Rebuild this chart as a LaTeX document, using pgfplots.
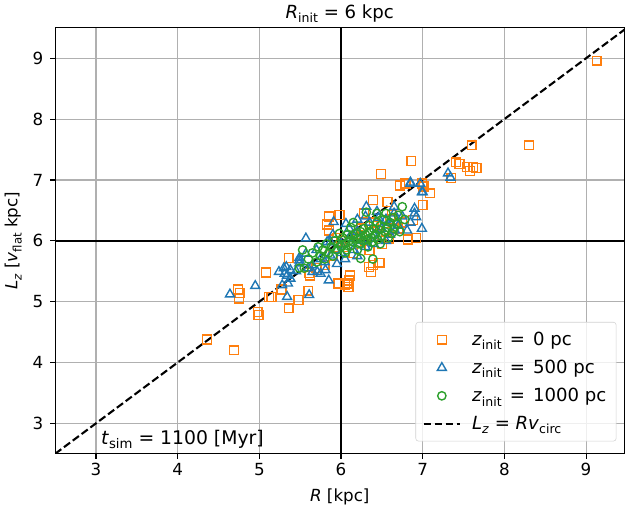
\documentclass[border=0pt]{standalone}
\usepackage{fontspec}
\setmainfont{DejaVu Sans}
\usepackage{pgfplots}
\pgfplotsset{compat=1.18}
\definecolor{corange}{HTML}{FF7F0E}
\definecolor{cblue}{HTML}{1F77B4}
\definecolor{cgreen}{HTML}{2CA02C}
\definecolor{cgrid}{HTML}{B0B0B0}
\newcommand{\fs}{\fontsize{12}{14}\selectfont}
\newcommand{\lsub}[2][8.4]{\raisebox{-0.25em}{\fontsize{#1}{#1}\selectfont #2}}
\newcommand{\legeq}{\hspace{0.45em}=\hspace{0.45em}}
\pgfplotsset{
  mklegend/.style={legend image code/.code={\draw[mark repeat=2,mark phase=2,##1] plot coordinates {(0pt,0pt) (13pt,0pt) (26pt,0pt)};}},
  lnlegend/.style={legend image code/.code={\draw[##1] (0pt,0pt) -- (26pt,0pt);}},
}
\begin{document}
\begin{tikzpicture}
\begin{axis}[
  scale only axis, width=409pt, height=306pt,
  xmin=2.5, xmax=9.47, ymin=2.5, ymax=9.5,
  xtick={3,4,5,6,7,8,9}, ytick={3,4,5,6,7,8,9},
  grid=major, grid style={color=cgrid, line width=0.8pt},
  axis line style={line width=0.8pt},
  tick align=outside, xtick pos=lower, ytick pos=left,
  major tick length=3.5pt, tick style={line width=0.8pt, black},
  font=\fs, tick label style={font=\fs},
  yticklabel style={xshift=-1.5pt},
  /pgf/number format/assume math mode=true,
  title={\textit{R}\lsub[9]{init} = 6 kpc},
  title style={yshift=-6pt, font=\fontsize{13}{15}\selectfont},
  xlabel={\textit{R} [kpc]}, ylabel={\textit{L}\lsub{\textit{z}} [\textit{v}\lsub{flat} kpc]},
  xlabel style={yshift=-2pt}, ylabel style={yshift=1pt},
  legend style={at={(rel axis cs:0.986,0.029)}, anchor=south east, draw=gray!35, rounded corners=2pt,
    fill=white, fill opacity=0.8, text opacity=1, font=\fontsize{13}{15}\selectfont, row sep=5pt, inner xsep=5pt, inner ysep=5pt,
    /tikz/every even column/.append style={column sep=10pt},
    /tikz/every odd column/.append style={column sep=6pt}},
  legend cell align=left,
]
\addplot[black, line width=1.5pt, forget plot] coordinates {(6,2.5) (6,9.5)};
\addplot[black, line width=1.5pt, forget plot] coordinates {(2.5,6) (9.5,6)};
% z_init = 0 pc
\addplot[only marks, mark=square, mark size=3.2pt, corange, mark options={line width=1pt}, mklegend] coordinates {
(9.13,8.96) (8.30,7.57) (7.60,7.57) (6.86,7.31) (7.41,7.29) (7.45,7.26) (7.54,7.21) (7.62,7.21)
(7.58,7.15) (7.66,7.20) (7.35,7.03) (6.49,7.10) (6.72,6.91) (6.79,6.94) (6.99,6.94) (7.01,6.89)
(7.09,6.78) (7.00,6.59) (6.88,6.34) (6.39,6.67) (6.57,6.64) (5.85,6.40) (5.98,6.42) (6.28,6.45)
(5.83,6.27) (6.82,6.02) (6.59,6.04) (5.36,5.72) (6.34,5.57) (6.47,5.64) (6.39,5.60) (6.37,5.49)
(6.11,5.43) (6.08,5.30) (6.09,5.24) (5.97,5.30) (6.10,5.35) (5.61,5.47) (5.85,6.17) (5.62,5.43)
(5.08,5.48) (4.74,5.20) (4.75,5.05) (4.76,5.14) (5.12,5.08) (5.15,5.08) (5.27,5.20) (5.60,5.18)
(5.48,5.03) (5.36,4.89) (4.98,4.83) (4.99,4.78) (4.36,4.38) (4.69,4.20) (6.05,5.27)
(6.20,6.10) (6.45,6.25) (6.60,6.35) (6.05,5.90) (5.90,5.75) (6.30,6.00) (6.55,6.15) (6.70,6.20)
(6.15,5.80) (5.80,5.60) (6.40,6.30) (6.62,6.42) (5.95,6.05) (6.25,6.20) (6.50,5.95) (6.75,6.30)
(6.92,6.05) (6.00,6.00) (6.35,5.85) (5.70,5.55)
};
\addlegendentry{\textit{z}\lsub[9]{init}\legeq 0 pc}
% z_init = 500 pc
\addplot[only marks, mark=triangle, mark size=3.7pt, cblue, mark options={line width=1pt}, mklegend] coordinates {
(4.64,5.12) (4.95,5.26) (5.24,5.49) (5.33,5.57) (5.31,5.46) (5.49,5.63) (5.38,5.38) (5.35,5.30)
(5.28,5.27) (5.34,5.08) (5.61,5.11) (5.85,5.35) (5.75,5.46) (5.65,5.49) (5.57,5.79) (5.49,5.72)
(5.57,6.04) (5.30,5.55) (5.34,5.43) (5.49,5.68) (5.71,5.49) (5.81,5.52) (5.87,5.76) (5.83,5.98)
(5.91,6.31) (6.06,6.28) (5.87,5.98) (6.31,6.56) (6.44,6.48) (6.65,6.56) (6.90,6.53) (6.92,6.39)
(6.81,6.17) (6.99,6.20) (6.85,6.94) (6.97,6.94) (6.99,6.80) (7.31,7.11) (7.34,7.04) (6.85,6.96)
(7.00,6.80) (6.90,6.45) (6.75,6.40) (6.60,6.30) (6.70,6.25) (6.50,6.20) (6.40,6.10) (6.55,6.35)
(6.35,6.30) (6.20,6.15) (6.10,6.05) (6.00,5.95) (5.95,5.85) (6.25,6.00) (6.45,6.05) (6.60,6.10)
(6.66,6.17) (6.46,6.38) (5.75,5.70) (5.65,5.60) (5.80,5.65) (5.95,5.62) (6.05,5.70) (6.15,5.85)
(6.30,5.90) (6.40,5.95) (6.55,6.00) (5.60,5.55) (5.45,5.50) (5.38,5.52) (6.85,6.30) (6.65,6.45)
(6.30,6.40) (6.20,6.35) (6.10,6.20) (5.90,6.10) (5.70,5.85) (6.00,5.80) (6.20,5.75)
};
\addlegendentry{\textit{z}\lsub[9]{init}\legeq 500 pc}
% z_init = 1000 pc
\addplot[only marks, mark=o, mark size=3pt, cgreen, mark options={line width=1pt}, mklegend] coordinates {
(5.55,5.55) (5.53,5.85) (5.60,5.70) (5.65,5.80) (5.70,5.65) (5.72,5.90) (5.75,5.75) (5.78,5.85)
(5.80,5.70) (5.82,5.95) (5.85,5.80) (5.88,5.90) (5.90,5.75) (5.92,6.00) (5.95,5.85) (5.97,5.95)
(6.00,5.90) (6.02,6.05) (6.05,5.95) (6.07,5.85) (6.08,6.10) (6.10,6.00) (6.12,5.92) (6.14,6.08)
(6.15,5.98) (6.18,6.12) (6.20,6.03) (6.22,5.95) (6.24,6.15) (6.25,6.05) (6.27,6.00) (6.28,6.20)
(6.30,6.10) (6.32,6.02) (6.34,6.25) (6.35,6.15) (6.37,6.05) (6.38,5.98) (6.40,6.20) (6.42,6.10)
(6.44,6.30) (6.45,6.02) (6.47,6.18) (6.48,6.25) (6.50,6.08) (6.52,6.35) (6.54,6.15) (6.55,6.45)
(6.57,6.22) (6.58,6.05) (6.60,6.30) (6.62,6.12) (6.64,6.38) (6.65,6.20) (6.68,6.28) (6.70,6.42)
(6.72,6.15) (6.75,6.56) (6.78,6.35) (6.24,5.71) (6.39,5.70) (6.05,5.80) (5.98,6.12) (6.12,6.22)
(6.20,5.85) (6.33,5.90) (6.15,6.30) (6.48,5.95) (6.31,6.47) (6.44,6.45) (5.49,5.55)
};
\addlegendentry{\textit{z}\lsub[9]{init}\legeq 1000 pc}
\addplot[black, line width=1.5pt, dash pattern=on 5.5pt off 2.4pt, lnlegend] coordinates {(2.5,2.5) (9.5,9.5)};
\addlegendentry{\textit{L}\lsub[9]{\textit{z}} = \textit{Rv}\lsub[9]{circ}}
\node[anchor=base west, inner sep=0pt, font=\fontsize{13.5}{15}\selectfont] at (axis cs:3.06,2.66) {\textit{t}\lsub[9.5]{sim} = 1100 [Myr]};
\end{axis}
\end{tikzpicture}
\end{document}
